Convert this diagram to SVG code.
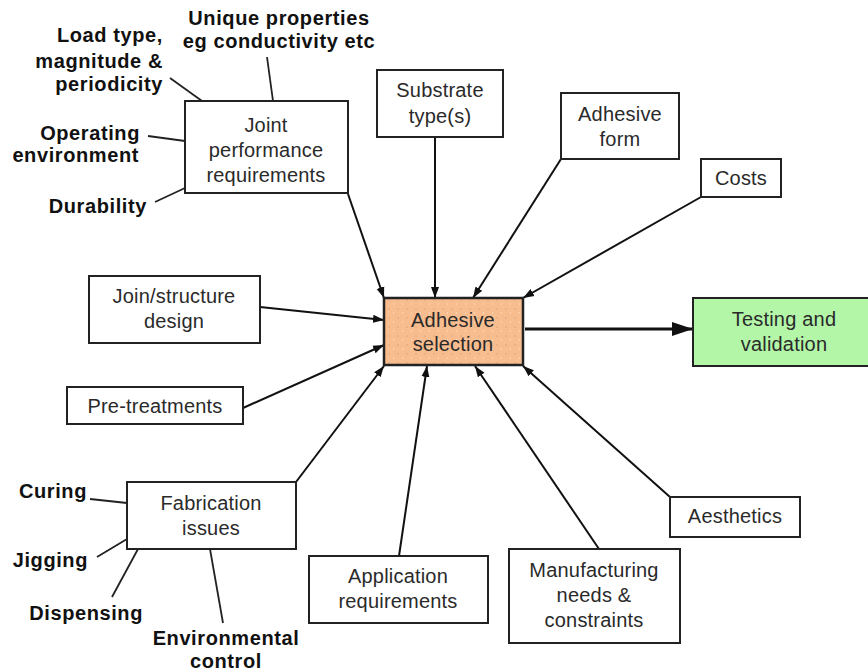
<svg xmlns="http://www.w3.org/2000/svg" width="868" height="672" viewBox="0 0 868 672">
<defs>
<style>
.box{fill:#fff;stroke:#222;stroke-width:2}
.t{font-family:"Liberation Sans",Arial,sans-serif;font-size:20px;letter-spacing:0.2px;fill:#2a2a2a;text-anchor:middle}
.b{font-family:"Liberation Sans",Arial,sans-serif;font-size:20px;letter-spacing:0.6px;font-weight:bold;fill:#111}
.c{stroke:#111;stroke-width:2;fill:none;marker-end:url(#ah)}
.l{stroke:#222;stroke-width:1.8;fill:none}
</style>
<marker id="ah" markerUnits="userSpaceOnUse" markerWidth="12" markerHeight="10" viewBox="0 0 12 10" refX="11" refY="5" orient="auto">
<path d="M0,1 L11,5 L0,9 Z" fill="#111"/>
</marker>
<marker id="big" markerUnits="userSpaceOnUse" markerWidth="22" markerHeight="16" viewBox="0 0 22 16" refX="21" refY="8" orient="auto">
<path d="M0,1 L21,8 L0,15 Z" fill="#111"/>
</marker>
<pattern id="dots" width="9" height="9" patternUnits="userSpaceOnUse">
<rect width="9" height="9" fill="#f8bd8e"/>
<circle cx="2" cy="3" r="0.7" fill="#d9a07a"/>
<circle cx="6.5" cy="7" r="0.7" fill="#fbe0c8"/>
</pattern>
</defs>

<g id="connectors">
<path class="c" d="M348,194 L384,298"/>
<path class="c" d="M435,137 L435,298"/>
<path class="c" d="M561,159 L473,298"/>
<path class="c" d="M701,197 L523,298"/>
<path class="c" d="M260,307 L384,320"/>
<path class="c" d="M243,408 L384,345"/>
<path class="c" d="M296,482 L384,366"/>
<path class="c" d="M399,556 L427,366"/>
<path class="c" d="M599,549 L475,366"/>
<path class="c" d="M670,497 L523,366"/>
<path d="M525,329 L693,329" stroke="#111" stroke-width="3" fill="none" marker-end="url(#big)"/>
<path class="l" d="M267,57 L273,101"/>
<path class="l" d="M170,78 L202,101"/>
<path class="l" d="M148,136 L185,141"/>
<path class="l" d="M155,202 L185,188"/>
<path class="l" d="M90,499 L127,503"/>
<path class="l" d="M97,557 L127,539"/>
<path class="l" d="M112,597 L138,549"/>
<path class="l" d="M210,549 L223,623"/>
</g>

<g id="unique-properties">
<text class="b" x="279" y="25" text-anchor="middle">Unique properties</text>
<text class="b" x="279" y="48" text-anchor="middle">eg conductivity etc</text>
</g>
<g id="load-type">
<text class="b" x="163" y="42" text-anchor="end">Load type,</text>
<text class="b" x="163" y="68" text-anchor="end">magnitude &amp;</text>
<text class="b" x="163" y="91" text-anchor="end">periodicity</text>
</g>
<g id="operating-environment">
<text class="b" x="140" y="140" text-anchor="end">Operating</text>
<text class="b" x="139" y="162" text-anchor="end">environment</text>
</g>
<g id="durability">
<text class="b" x="147" y="213" text-anchor="end">Durability</text>
</g>
<g id="curing"><text class="b" x="87" y="498" text-anchor="end">Curing</text></g>
<g id="jigging"><text class="b" x="88" y="567" text-anchor="end">Jigging</text></g>
<g id="dispensing"><text class="b" x="143" y="620" text-anchor="end">Dispensing</text></g>
<g id="environmental-control">
<text class="b" x="226" y="645" text-anchor="middle">Environmental</text>
<text class="b" x="226" y="668" text-anchor="middle">control</text>
</g>

<g id="joint-performance">
<rect class="box" x="185" y="101" width="163" height="92"/>
<text class="t" x="266" y="132">Joint</text>
<text class="t" x="266" y="157">performance</text>
<text class="t" x="266" y="182">requirements</text>
</g>
<g id="substrate">
<rect class="box" x="377" y="70" width="126" height="67"/>
<text class="t" x="440" y="97">Substrate</text>
<text class="t" x="440" y="123">type(s)</text>
</g>
<g id="adhesive-form">
<rect class="box" x="561" y="93" width="118" height="66"/>
<text class="t" x="620" y="121">Adhesive</text>
<text class="t" x="620" y="146">form</text>
</g>
<g id="costs">
<rect class="box" x="701" y="159" width="80" height="38"/>
<text class="t" x="741" y="185">Costs</text>
</g>
<g id="join-structure">
<rect class="box" x="89" y="276" width="171" height="67"/>
<text class="t" x="174" y="303">Join/structure</text>
<text class="t" x="174" y="328">design</text>
</g>
<g id="pre-treatments">
<rect class="box" x="67" y="387" width="176" height="37"/>
<text class="t" x="155" y="413">Pre-treatments</text>
</g>
<g id="adhesive-selection">
<rect x="384" y="298" width="139" height="67" fill="url(#dots)" stroke="#222" stroke-width="2.5"/>
<text class="t" x="453" y="327">Adhesive</text>
<text class="t" x="453" y="351">selection</text>
</g>
<g id="testing-validation">
<rect x="693" y="298" width="184" height="68" fill="#b3f6a8" stroke="#222" stroke-width="2"/>
<text class="t" x="784" y="326">Testing and</text>
<text class="t" x="784" y="351">validation</text>
</g>
<g id="fabrication">
<rect class="box" x="127" y="482" width="169" height="67"/>
<text class="t" x="211" y="510">Fabrication</text>
<text class="t" x="211" y="535">issues</text>
</g>
<g id="application">
<rect class="box" x="309" y="556" width="179" height="67"/>
<text class="t" x="398" y="583">Application</text>
<text class="t" x="398" y="608">requirements</text>
</g>
<g id="manufacturing">
<rect class="box" x="509" y="549" width="171" height="94"/>
<text class="t" x="594" y="577">Manufacturing</text>
<text class="t" x="594" y="602">needs &amp;</text>
<text class="t" x="594" y="627">constraints</text>
</g>
<g id="aesthetics">
<rect class="box" x="670" y="497" width="130" height="40"/>
<text class="t" x="735" y="523">Aesthetics</text>
</g>
</svg>
